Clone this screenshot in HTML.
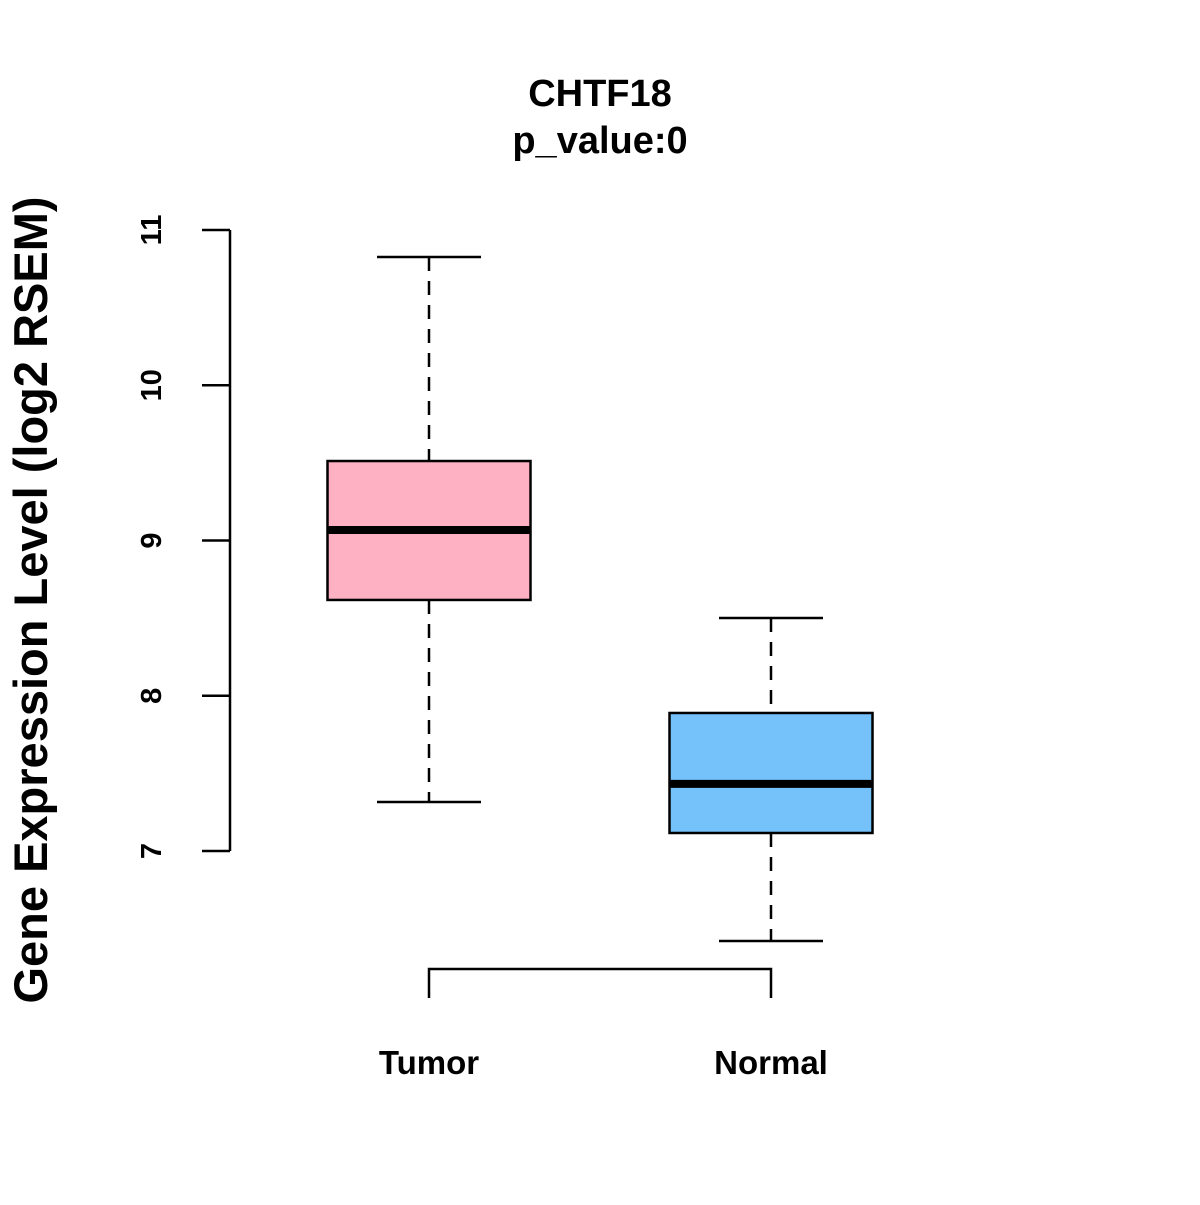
<!DOCTYPE html>
<html><head><meta charset="utf-8"><style>
body{margin:0;background:#fff}
svg text{font-family:"Liberation Sans",Arial,sans-serif;font-weight:bold;fill:#000}
</style></head><body>
<svg id="chart" width="1200" height="1200" viewBox="0 0 1200 1200" xmlns="http://www.w3.org/2000/svg">
<rect width="1200" height="1200" fill="#fff"/>
<text x="600" y="106" font-size="38" text-anchor="middle">CHTF18</text>
<text x="600" y="153" font-size="38" text-anchor="middle">p_value:0</text>
<text transform="translate(47,600) rotate(-90)" font-size="47" text-anchor="middle">Gene Expression Level (log2 RSEM)</text>
<g id="yaxis"></g>
<g id="boxes"></g>
</svg>
<script>
const categories=["Tumor","Normal"];
const whiskerHigh=[10.826,8.501];
const q3=[9.512,7.889];
const medians=[9.068,7.432];
const q1=[8.617,7.116];
const whiskerLow=[7.316,6.420];
const colors=["#FDB1C3","#75C1FA"];
const yTicks=[7,8,9,10,11];
const NS="http://www.w3.org/2000/svg";
function y(v){return 230+(11-v)*155.25;}
function x(i){return 429+i*342;}
function mk(tag,attrs,parent){const e=document.createElementNS(NS,tag);for(const k in attrs)e.setAttribute(k,attrs[k]);parent.appendChild(e);return e;}
const ya=document.getElementById('yaxis');
const bx=document.getElementById('boxes');
let ax=mk('line',{x1:230,x2:230,y1:y(yTicks[yTicks.length-1]),y2:y(yTicks[0]),stroke:'#000','stroke-width':2.5},ya);


yTicks.forEach(t=>{
 let l=mk('line',{x1:202,x2:230,y1:y(t),y2:y(t),stroke:'#000','stroke-width':2.5},ya);
 
 
 let tx=mk('text',{transform:`translate(161,${y(t)}) rotate(-90)`,'font-size':29,'text-anchor':'middle'},ya);
 tx.textContent=t;
 
 
});
categories.forEach((c,i)=>{
 const cx=x(i);
 const g=mk('g',{},bx);
 
 
 mk('line',{x1:cx,x2:cx,y1:y(whiskerHigh[i]),y2:y(q3[i]),stroke:'#000','stroke-width':2.5,'stroke-dasharray':'14,10'},g);
 mk('line',{x1:cx,x2:cx,y1:y(q1[i]),y2:y(whiskerLow[i]),stroke:'#000','stroke-width':2.5,'stroke-dasharray':'14,10'},g);
 mk('line',{x1:cx-52,x2:cx+52,y1:y(whiskerHigh[i]),y2:y(whiskerHigh[i]),stroke:'#000','stroke-width':2.5},g);
 mk('line',{x1:cx-52,x2:cx+52,y1:y(whiskerLow[i]),y2:y(whiskerLow[i]),stroke:'#000','stroke-width':2.5},g);
 mk('rect',{x:cx-101.5,y:y(q3[i]),width:203,height:y(q1[i])-y(q3[i]),fill:colors[i],stroke:'#000','stroke-width':2.5},g);
 mk('line',{x1:cx-101.5,x2:cx+101.5,y1:y(medians[i]),y2:y(medians[i]),stroke:'#000','stroke-width':8},g);
 let lb=mk('text',{x:cx,y:1074,'font-size':33,'text-anchor':'middle'},bx);
 lb.textContent=c;
 
 
});
let br=mk('path',{d:`M${x(0)},998 V969 H${x(1)} V998`,fill:'none',stroke:'#000','stroke-width':2.5},bx);


</script>
</body></html>
